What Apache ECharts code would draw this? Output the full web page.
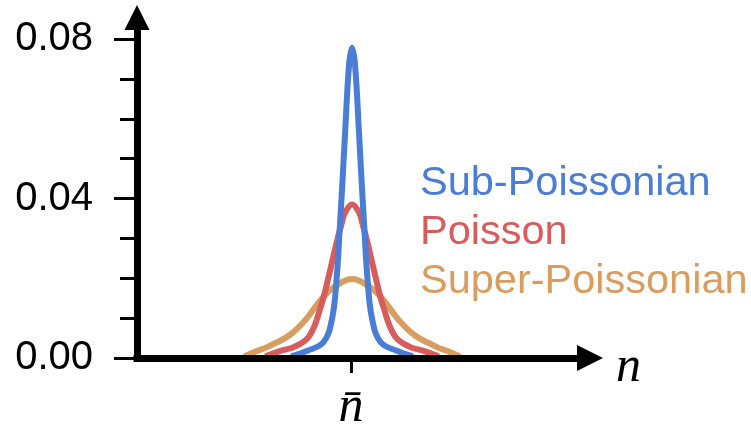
<!DOCTYPE html>
<html>
<head>
<meta charset="utf-8">
<script src="https://cdn.jsdelivr.net/npm/echarts@6/dist/echarts.min.js"></script>
<style>
  html, body { margin: 0; padding: 0; background: #ffffff; }
  #chart { width: 751px; height: 425px; }
</style>
</head>
<body>
<div id="chart"></div>
<script>
// ---- data ----
const seriesNames = ['Sub-Poissonian', 'Poisson', 'Super-Poissonian'];
const seriesColors = ['#4a7dd6', '#d95c5c', '#d99d5f'];

// photon number n (axis units, n̄ = 100) and probability P(n)
const subX = [72.0, 79.6, 87.2, 91.2, 93.3, 94.7, 96.1, 97.2, 99.1, 100.5, 101.9, 103.8, 104.9, 106.3, 107.7, 109.8, 113.8, 121.4, 129.0];
const subY = [0.0004, 0.0018, 0.0040, 0.0100, 0.0200, 0.0320, 0.0450, 0.0560, 0.0735, 0.0778, 0.0735, 0.0560, 0.0450, 0.0320, 0.0200, 0.0100, 0.0040, 0.0018, 0.0004];

const poiX = [60.0, 67.0, 73.5, 80.5, 85.8, 89.6, 93.3, 95.8, 97.2, 100.5, 103.8, 105.2, 107.7, 111.4, 115.2, 120.5, 127.5, 134.0, 141.0];
const poiY = [0.0004, 0.0018, 0.0028, 0.0055, 0.0127, 0.0205, 0.0290, 0.0340, 0.0365, 0.0385, 0.0365, 0.0340, 0.0290, 0.0205, 0.0127, 0.0055, 0.0028, 0.0018, 0.0004];

const supX = [50.0, 56.3, 61.0, 71.2, 79.1, 86.5, 93.5, 100.5, 107.5, 114.5, 121.9, 129.8, 140.0, 144.7, 151.0];
const supY = [0.0004, 0.0018, 0.0028, 0.0057, 0.0098, 0.0150, 0.0183, 0.0198, 0.0183, 0.0150, 0.0098, 0.0057, 0.0028, 0.0018, 0.0004];

const yMajorTicks = [0, 0.04, 0.08];
const yMinorTicks = [0.01, 0.02, 0.03, 0.05, 0.06, 0.07];
const xTicks = [100];
const xTickLabels = ['n\u0304'];
const xName = 'n';

// ---- chart ----
const zip = (xs, ys) => xs.map((x, i) => [x, ys[i]]);
const seriesData = [zip(subX, subY), zip(poiX, poiY), zip(supX, supY)];
const drawOrder = [2, 1, 0];

const chart = echarts.init(document.getElementById('chart'), null, { renderer: 'canvas' });

const option = {
  animation: false,
  backgroundColor: '#ffffff',
  grid: { left: 137, right: 161, top: 17.5, bottom: 67, containLabel: false, outerBoundsMode: 'none' },
  legend: {
    orient: 'vertical',
    left: 410,
    top: 158,
    itemGap: 7,
    itemWidth: 0,
    itemHeight: 0,
    icon: 'rect',
    selectedMode: false,
    textStyle: { fontFamily: 'Liberation Sans, Arial, sans-serif', fontSize: 41.5 },
    data: seriesNames.map((n, i) => ({ name: n, textStyle: { color: seriesColors[i] } }))
  },
  xAxis: {
    type: 'value',
    min: 0,
    max: 211.7,
    z: 5,
    name: xName,
    nameLocation: 'end',
    nameGap: 26,
    nameTextStyle: {
      fontFamily: 'Liberation Serif, serif', fontStyle: 'italic', fontSize: 50,
      color: '#000', align: 'left', verticalAlign: 'top', lineHeight: 20
    },
    splitLine: { show: false },
    axisLine: {
      show: true,
      symbol: ['none', 'triangle'],
      symbolSize: [26, 26],
      lineStyle: { color: '#000', width: 7, cap: 'square' }
    },
    axisTick: { show: true, customValues: xTicks, length: 15, lineStyle: { color: '#000', width: 3 } },
    axisLabel: {
      show: true,
      customValues: xTicks,
      formatter: (v) => xTickLabels[xTicks.indexOf(v)] || '',
      margin: 25,
      fontFamily: 'Liberation Serif, serif', fontStyle: 'italic', fontSize: 50, color: '#000'
    }
  },
  yAxis: [
    {
      type: 'value',
      min: 0,
      max: 0.0854,
      z: 5,
      splitLine: { show: false },
      axisLine: {
        show: true,
        symbol: ['none', 'triangle'],
        symbolSize: [25, 25],
        lineStyle: { color: '#000', width: 7, cap: 'square' }
      },
      axisTick: { show: true, customValues: yMajorTicks, length: 23, lineStyle: { color: '#000', width: 3 } },
      axisLabel: {
        show: true,
        customValues: yMajorTicks,
        formatter: (v) => v.toFixed(2),
        margin: 44,
        fontFamily: 'Liberation Sans, Arial, sans-serif', fontSize: 40, color: '#000'
      }
    },
    {
      type: 'value',
      min: 0,
      max: 0.0854,
      z: 5,
      position: 'left',
      splitLine: { show: false },
      axisLine: { show: false },
      axisTick: { show: true, customValues: yMinorTicks, length: 17, lineStyle: { color: '#000', width: 3 } },
      axisLabel: { show: false }
    }
  ],
  series: drawOrder.map((i) => ({
    name: seriesNames[i],
    type: 'line',
    data: seriesData[i],
    smooth: 0.4,
    showSymbol: false,
    symbol: 'none',
    clip: false,
    z: 2,
    lineStyle: { color: seriesColors[i], width: 6 },
    itemStyle: { color: seriesColors[i] }
  }))
};

chart.setOption(option);
</script>
</body>
</html>
